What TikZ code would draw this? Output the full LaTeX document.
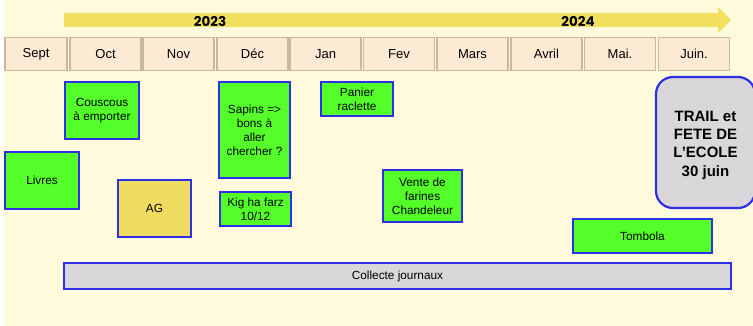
\documentclass[tikz,border=0pt]{standalone}
\usepackage{fontspec}
\setmainfont{Liberation Sans}
\newfontfamily\yearfont{Poppins}
\definecolor{bgcream}{HTML}{FFFADC}
\definecolor{bandyellow}{HTML}{F2DF5E}
\definecolor{monthfill}{HTML}{FDEAD4}
\definecolor{monthline}{HTML}{C8B89E}
\definecolor{evgreen}{HTML}{55FF2A}
\definecolor{evblue}{HTML}{2F2FE8}
\definecolor{evgrey}{HTML}{D9D7DA}
\definecolor{agyellow}{HTML}{F0DC60}
\tikzset{
  month/.style={draw=monthline, line width=1.2pt, fill=monthfill, minimum height=33pt, inner sep=0pt,
    font=\fontsize{13}{15}\selectfont},
  evbox/.style={draw=evblue, line width=1.8pt, fill=evgreen, inner sep=0pt, align=center,
    font=\fontsize{11.8}{14}\selectfont},
  agbox/.style={evbox, fill=agyellow},
  greybox/.style={evbox, fill=evgrey},
  trailbox/.style={draw=evblue, line width=2.2pt, fill=evgrey, rounded corners=17pt, inner sep=0pt},
  trailtext/.style={align=center, inner sep=0pt, font=\fontsize{15}{18.3}\selectfont\bfseries},
  yearlabel/.style={font=\yearfont\fontsize{13.5}{15}\selectfont\bfseries, inner sep=0pt}
}
\begin{document}
\begin{tikzpicture}[x=1pt,y=-1pt]
\useasboundingbox (0,0) rectangle (753,326);
\fill[white] (0,0) rectangle (753,326);
\fill[bgcream] (4,0) rectangle (753,326);
% timeline arrow
\fill[bandyellow] (64,13) -- (718,13) -- (718,7) -- (731,20) -- (718,33) -- (718,27) -- (64,27) -- cycle;
\node[yearlabel] (y23) at (210,21) {2023};
\node[yearlabel] (y24) at (578,21) {2024};
% months
\node[month, minimum width=62pt] (sep) at (36,54) {Sept};
\node[month, minimum width=71pt] (oct) at (105.5,54) {Oct};
\node[month, minimum width=71pt] (nov) at (178.5,54) {Nov};
\node[month, minimum width=71pt] (dec) at (252.5,54) {Déc};
\node[month, minimum width=71pt] (jan) at (325.5,54) {Jan};
\node[month, minimum width=71pt] (fev) at (399,54) {Fev};
\node[month, minimum width=71pt] (mar) at (472.5,54) {Mars};
\node[month, minimum width=71pt] (avr) at (546.5,54) {Avril};
\node[month, minimum width=71pt] (mai) at (620,54) {Mai.};
\node[month, minimum width=71pt] (jui) at (694,54) {Juin.};
% events
\node[evbox, minimum width=74pt, minimum height=57pt] (cous) at (102,110.5) {Couscous\\à emporter};
\node[evbox, minimum width=74pt, minimum height=57pt] (livres) at (42,180.5) {Livres};
\node[agbox, minimum width=73pt, minimum height=57pt] (ag) at (154.5,208.5) {AG};
\node[evbox, minimum width=71pt, minimum height=96pt] (sapins) at (254.5,130) {Sapins =>\\bons à\\aller\\chercher ?};
\node[evbox, minimum width=71pt, minimum height=34pt] (kig) at (255.5,209) {Kig ha farz\\10/12};
\node[evbox, minimum width=72pt, minimum height=34pt] (panier) at (357,99) {Panier\\raclette};
\node[evbox, minimum width=79pt, minimum height=52pt] (vente) at (422.5,196) {Vente de\\farines\\Chandeleur};
\node[evbox, minimum width=139pt, minimum height=34pt] (tombola) at (642.5,236) {Tombola};
\node[greybox, minimum width=667pt, minimum height=26pt] (collecte) at (397.5,276) {Collecte journaux};
\node[trailbox, minimum width=99pt, minimum height=131pt] (trail) at (705.5,142.5) {};
\node[trailtext] (trailtxt) at ([yshift=-2.5pt]trail.center) {TRAIL et\\FETE DE\\L’ECOLE\\30 juin};
\end{tikzpicture}
\end{document}
